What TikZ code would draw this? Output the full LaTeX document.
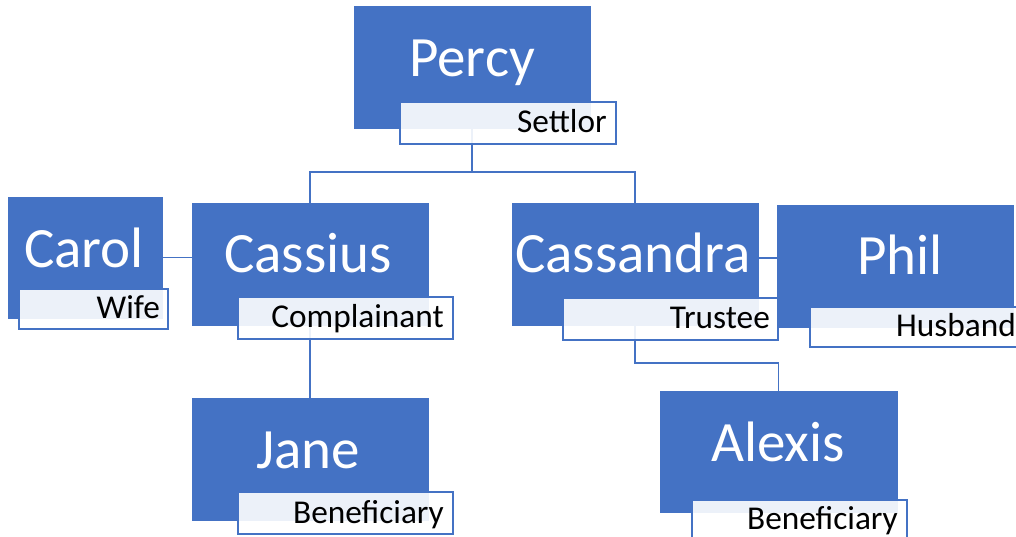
\documentclass[tikz,border=0pt]{standalone}
\usepackage{fontspec}
\setmainfont{Carlito}
\definecolor{acc}{HTML}{4472C4}
\begin{document}
\begin{tikzpicture}[x=1pt,y=-1pt,
  box/.style={fill=acc, draw=acc, line width=0.6pt, inner sep=0pt, outer sep=0pt},
  role/.style={draw=acc, line width=1.3pt, fill=white, fill opacity=0.9, text opacity=1, inner sep=0pt, outer sep=0pt},
  nametext/.style={text=white, inner sep=0pt, font=\fontsize{57}{61}\selectfont, anchor=base},
  roletext/.style={text=black, inner sep=0pt, font=\fontsize{33.3}{37}\selectfont, anchor=base east},
  link/.style={draw=acc, line width=1.3pt}]
\useasboundingbox (0,0) rectangle (1016,536);
\clip (0,0) rectangle (1016,536);
% boxes
\node[box, minimum width=236, minimum height=122] (percy) at (472,67) {};
\node[box, minimum width=154, minimum height=121] (carol) at (85,257.5) {};
\node[box, minimum width=236, minimum height=122] (cassius) at (310,264) {};
\node[box, minimum width=246, minimum height=122] (cassandra) at (635,264) {};
\node[box, minimum width=236, minimum height=122] (phil) at (895,266) {};
\node[box, minimum width=236, minimum height=122] (jane) at (310,459) {};
\node[box, minimum width=237, minimum height=121] (alexis) at (778.5,451.5) {};
% connectors
\coordinate (bus) at (472,172);
\coordinate (bus2) at (635,363);
\draw[link] (percy.south) -- (bus) -| (cassius.north);
\draw[link] (bus) -| (cassandra.north);
\draw[link] (carol.east) -- (carol.east -| cassius.west);
\draw[link] ([yshift=6pt]cassandra.east) -- ([yshift=6pt]cassandra.east -| phil.west);
\draw[link] (cassius.south) -- (jane.north);
\draw[link] (cassandra.south) -- (bus2) -| (alexis.north);
% names
\node[nametext] (percyN) at (472,76) {Percy};
\node[nametext] (carolN) at (84,267) {Carol};
\node[nametext] (cassiusN) at (308,272) {Cassius};
\node[nametext] (cassandraN) at (633,272) {Cassandra};
\node[nametext] (philN) at (900,274) {Phil};
\node[nametext] (janeN) at (308,468) {Jane};
\node[nametext] (alexisN) at (778,461) {Alexis};
% role labels
\node[role, minimum width=216, minimum height=42] (percyR) at (508,123) {};
\node[role, minimum width=149, minimum height=40] (carolR) at (93.5,309) {};
\node[role, minimum width=215, minimum height=42] (cassiusR) at (345.5,318) {};
\node[role, minimum width=215, minimum height=42] (cassandraR) at (670.5,319) {};
\node[role, minimum width=215, minimum height=40] (philR) at (917.5,327) {};
\node[role, minimum width=215, minimum height=42] (janeR) at (345.5,513) {};
\node[role, minimum width=215, minimum height=42] (alexisR) at (799.5,521) {};
\node[roletext] (percyT) at (607,132) {Settlor};
\node[roletext] (carolT) at (160,318) {Wife};
\node[roletext] (cassiusT) at (444,327) {Complainant};
\node[roletext] (cassandraT) at (770,328) {Trustee};
\node[roletext] (philT) at (1016,336) {Husband};
\node[roletext] (janeT) at (444,523) {Beneficiary};
\node[roletext] (alexisT) at (898,529) {Beneficiary};
\end{tikzpicture}
\end{document}
